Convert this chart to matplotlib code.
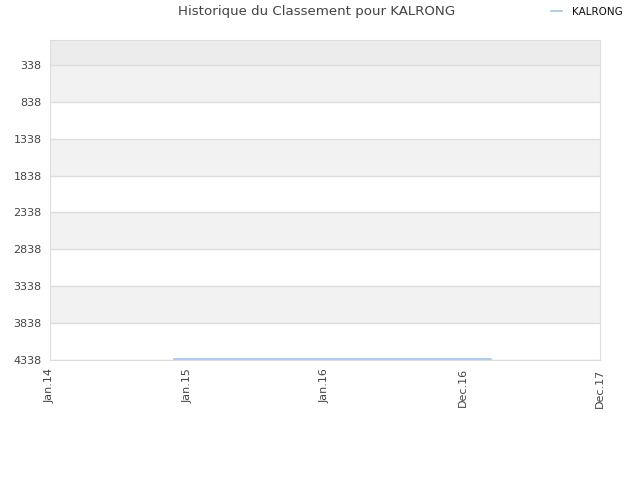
import matplotlib
matplotlib.use('Agg')
import matplotlib.pyplot as plt
import numpy as np

# tick labels along x (evenly spaced in the original)
x_labels = ['Jan.14', 'Jan.15', 'Jan.16', 'Dec.16', 'Dec.17']
y_ticks = [338, 838, 1338, 1838, 2338, 2838, 3338, 3838, 4338]

# ranking series (position on x in tick units, rank value)
rank_x = [0.90, 1.50, 2.20, 3.21]
rank_y = [4325, 4325, 4325, 4325]

fig = plt.figure(figsize=(6.4, 4.8), dpi=100)
ax = fig.add_axes([50 / 640, 1 - 360 / 480, 550 / 640, 320 / 480])

ax.set_xlim(0, len(x_labels) - 1)
ax.set_ylim(4338, 0)

# alternating background bands
ax.axhspan(0, y_ticks[0], color='#ececec', zorder=0, lw=0)
for i in range(len(y_ticks) - 1):
    if i % 2 == 0:
        ax.axhspan(y_ticks[i], y_ticks[i + 1], color='#f2f2f2', zorder=0, lw=0)
for t in y_ticks:
    ax.axhline(t, color='#dddddd', lw=1, zorder=1)

ax.plot(rank_x, rank_y, color='#9fc4ee', lw=1.2, label='KALRONG', zorder=3)

ax.set_yticks(y_ticks)
ax.set_yticklabels([str(t) for t in y_ticks])
ax.set_xticks(range(len(x_labels)))
ax.set_xticklabels(x_labels, rotation=90)
ax.tick_params(axis='both', length=0, labelsize=8, colors='#444444', pad=6)

for s in ax.spines.values():
    s.set_color('#dddddd')

fig.text(0.5 - 3 / 640, 1 - 12 / 480, 'Historique du Classement pour KALRONG',
         ha='center', va='center', fontsize=9.6, color='#444444')
leg = ax.legend(loc='center left', bbox_to_anchor=(551 / 640, 1 - 12 / 480),
                bbox_transform=fig.transFigure, frameon=False, fontsize=7.5,
                handlelength=1.05, handletextpad=0.95, borderpad=0, borderaxespad=0)
for txt in leg.get_texts():
    txt.set_color('#111111')

fig.savefig('out.png', dpi=100)
